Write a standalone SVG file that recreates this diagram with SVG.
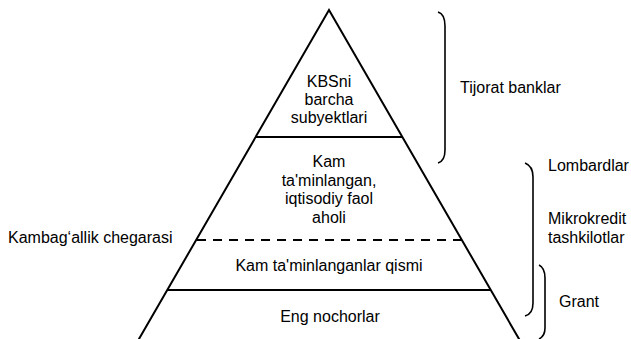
<svg xmlns="http://www.w3.org/2000/svg" width="631" height="339" viewBox="0 0 631 339">
<style>
text{font-family:"Liberation Sans",Arial,sans-serif;font-size:16px;fill:#000}
.c{text-anchor:middle}
.ln{stroke:#000;stroke-width:2;fill:none}
.dash{stroke-dasharray:9 7}
.br{stroke:#000;stroke-width:1.6;fill:none}
</style>
<rect width="631" height="339" fill="#fff"/>
<g id="pyramid">
<polyline class="ln" points="135.5,345 329,10 522.5,345" stroke-linejoin="miter"/>
</g>
<g id="connectors">
<line class="ln" x1="256" y1="137" x2="402" y2="137"/>
<line class="ln dash" x1="197" y1="240" x2="462" y2="240"/>
<line class="ln" x1="167" y1="290" x2="491" y2="290"/>
</g>
<g id="tier1">
<text class="c" x="329" y="87">KBSni</text>
<text class="c" x="329" y="105">barcha</text>
<text class="c" x="329" y="123">subyektlari</text>
</g>
<g id="tier2">
<text class="c" x="329" y="167">Kam</text>
<text class="c" x="329" y="186">ta'minlangan,</text>
<text class="c" x="329" y="204">iqtisodiy faol</text>
<text class="c" x="329" y="223">aholi</text>
</g>
<g id="tier3">
<text class="c" x="329" y="271">Kam ta'minlanganlar qismi</text>
</g>
<g id="tier4">
<text class="c" x="330" y="322">Eng nochorlar</text>
</g>
<g id="poverty-line">
<text x="8" y="243">Kambag‘allik chegarasi</text>
</g>
<g id="brace-banks">
<path class="br" d="M438,12 Q445,14 445,26 L445,150 Q445,161 438,163"/>
<text x="460" y="93">Tijorat banklar</text>
</g>
<g id="brace-micro">
<path class="br" d="M525,163 Q533,166 533,177 L533,303 Q533,314 525,316"/>
<text x="548" y="171">Lombardlar</text>
<text x="548" y="224">Mikrokredit</text>
<text x="548" y="243">tashkilotlar</text>
</g>
<g id="brace-grant">
<path class="br" d="M539,265 Q545,268 545,278 L545,328 Q545,336 539,339"/>
<text x="559" y="307">Grant</text>
</g>
</svg>
